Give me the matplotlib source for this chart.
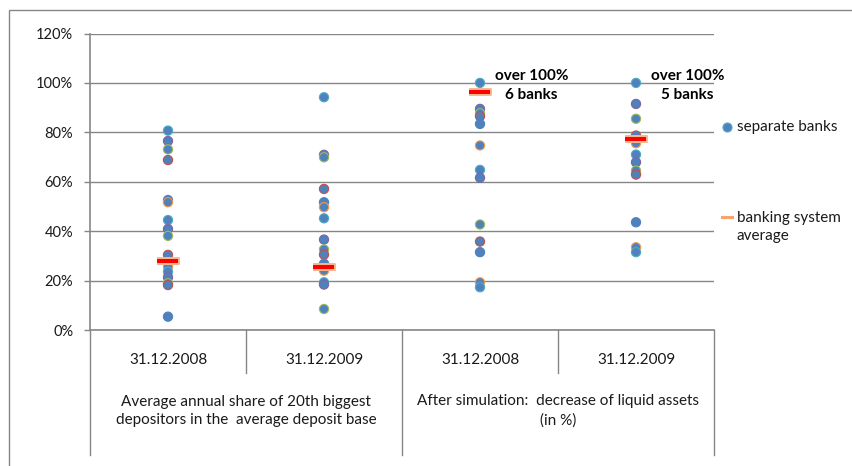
import matplotlib
matplotlib.use("Agg")
import matplotlib.pyplot as plt
from matplotlib.lines import Line2D
from matplotlib.patches import Rectangle

plt.rcParams["font.family"] = ["Lato", "DejaVu Sans"]

# data (share, 0..1)
dates = ["31.12.2008", "31.12.2009", "31.12.2008", "31.12.2009"]
groups = ["Average annual share of 20th biggest\ndepositors in the  average deposit base",
          "After simulation:  decrease of liquid assets\n(in %)"]
share_2008 = [0.807, 0.765, 0.731, 0.688, 0.526, 0.517, 0.445, 0.409, 0.381,
              0.304, 0.277, 0.256, 0.236, 0.213, 0.189, 0.182, 0.054]
share_2009 = [0.942, 0.709, 0.699, 0.571, 0.517, 0.497, 0.452, 0.366, 0.326,
              0.305, 0.268, 0.240, 0.193, 0.184, 0.085]
decrease_2008 = [1.0, 0.895, 0.877, 0.865, 0.834, 0.747, 0.648, 0.616,
                 0.427, 0.358, 0.315, 0.193, 0.173]
decrease_2009 = [1.0, 0.915, 0.855, 0.787, 0.767, 0.756, 0.710, 0.679,
                 0.645, 0.629, 0.436, 0.335, 0.315]
averages = [0.281, 0.254, 0.962, 0.774]
notes = ["over 100%\n6 banks", "over 100%\n5 banks"]
note_cols = [2, 3]

series = [share_2008, share_2009, decrease_2008, decrease_2009]
edge_cycle = ["#4BACC6", "#8064A2", "#9BBB59", "#C0504D", "#4F81BD", "#F79646"]
GRID = "#868686"
TXT = "#1a1a1a"

fig = plt.figure(figsize=(8.53, 4.66), dpi=100)
ax = fig.add_axes([90 / 853, 1 - 330 / 466, 624 / 853, 296.5 / 466])

# outer chart frame (top + left visible)
fig.add_artist(Rectangle((9 / 853, -0.1), 1.2, 1 - 10 / 466 + 0.1,
                         transform=fig.transFigure, fill=False,
                         edgecolor=GRID, linewidth=1.0))

for i, vals in enumerate(series):
    edges = [edge_cycle[k % len(edge_cycle)] for k in range(len(vals))]
    ax.scatter([i] * len(vals), vals, s=44, facecolor="#4F81BD",
               edgecolors=edges, linewidths=0.8, zorder=3)

bar = [(-1, -0.27), (1, -0.27), (1, 0.27), (-1, 0.27)]
ax.plot(range(len(averages)), averages, linestyle="none", marker=bar,
        markersize=16, markerfacecolor="#FF0000", markeredgecolor="#F9B88E",
        markeredgewidth=1.4, zorder=4)

for col, txt in zip(note_cols, notes):
    ax.text(col + 0.33, 0.99, txt, ha="center", va="center", fontsize=11,
            fontweight="bold", linespacing=1.4, color="#000000")

ax.set_xlim(-0.5, 3.5)
ax.set_ylim(0, 1.2)
ax.set_yticks([0, 0.2, 0.4, 0.6, 0.8, 1.0, 1.2])
ax.set_yticklabels(["0%", "20%", "40%", "60%", "80%", "100%", "120%"])
ax.set_xticks([])
ax.yaxis.grid(True, color=GRID, linewidth=1.0)
ax.set_axisbelow(True)
ax.tick_params(axis="y", length=4, width=1, color=GRID, pad=8, labelsize=10.5,
               labelcolor=TXT)
for side in ["top", "right"]:
    ax.spines[side].set_visible(False)
for side in ["left", "bottom"]:
    ax.spines[side].set_color(GRID)
    ax.spines[side].set_linewidth(1.2)

# two-level category axis
tr = ax.get_xaxis_transform()
for x in [0.5, 2.5]:
    ax.add_line(Line2D([x, x], [0, -43 / 296.5], transform=tr, color=GRID,
                       linewidth=1.0, clip_on=False))
for x in [-0.5, 1.5, 3.5]:
    ax.add_line(Line2D([x, x], [0, -125 / 296.5], transform=tr, color=GRID,
                       linewidth=1.0, clip_on=False))
for i, d in enumerate(dates):
    ax.text(i, -30 / 296.5, d, transform=tr, ha="center", va="center",
            fontsize=11, color=TXT)
for i, g in enumerate(groups):
    ax.text(2 * i + 0.5, -81 / 296.5, g, transform=tr, ha="center", va="center",
            fontsize=11, linespacing=1.45, color=TXT)

# legend
fig.add_artist(Line2D([727 / 853], [1 - 127 / 466], transform=fig.transFigure,
                      marker="o", markersize=6.5, markerfacecolor="#4F81BD",
                      markeredgecolor="#4BACC6", markeredgewidth=0.8, linestyle="none"))
fig.text(737 / 853, 1 - 127 / 466, "separate banks", ha="left", va="center",
         fontsize=11, color=TXT)
fig.add_artist(Line2D([722 / 853, 732 / 853], [1 - 217 / 466] * 2,
                      transform=fig.transFigure, color="#F9A36B", linewidth=2.2))
fig.text(737 / 853, 1 - 227 / 466, "banking system\naverage", ha="left",
         va="center", fontsize=11, linespacing=1.4, color=TXT)

fig.savefig("out.png", dpi=100)
